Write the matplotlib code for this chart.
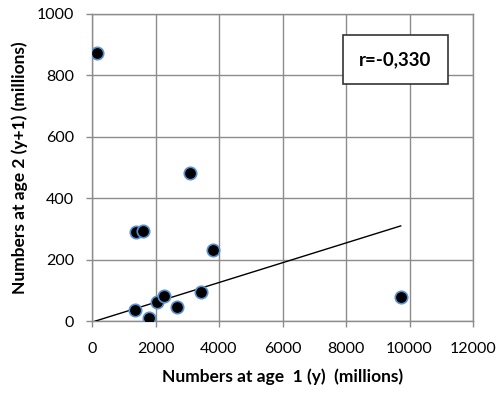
import matplotlib
matplotlib.use("Agg")
import matplotlib.pyplot as plt

age1 = [148, 1386, 1596, 3087, 3801, 1344, 1785, 2037, 2268, 2667, 3444, 9723]
age2 = [872, 291, 293, 481, 233, 36, 9, 61, 82, 47, 95, 77]
trend_x = [100, 9723]
trend_y = [0, 310]
xticks = [0, 2000, 4000, 6000, 8000, 10000, 12000]
yticks = [0, 200, 400, 600, 800, 1000]
r_label = "r=-0,330"

plt.rcParams['font.family'] = ['Lato', 'DejaVu Sans']

fig = plt.figure(figsize=(5, 3.94), dpi=100)
ax = fig.add_axes([0.184, 0.185, 0.762, 0.7795])
ax.set_xlim(0, 12000)
ax.set_ylim(0, 1000)
ax.set_xticks(xticks)
ax.set_yticks(yticks)
ax.grid(True, color='#8c8c8c', linewidth=1.0)
ax.set_axisbelow(True)
for s in ax.spines.values():
    s.set_color('#8c8c8c')
    s.set_linewidth(1.0)
ax.tick_params(colors='#8c8c8c', labelcolor='black', length=4, width=1, labelsize=11.5)
ax.tick_params(axis='x', pad=11)
ax.tick_params(axis='y', pad=9)

ax.plot(trend_x, trend_y, color='black', linewidth=1.0, zorder=3)
ax.scatter(age1, age2, s=80, facecolor='black', edgecolor='#5b8fd0', linewidth=1.2, zorder=4)

ax.set_xlabel('Numbers at age  1 (y)  (millions)', fontsize=12.5, fontweight='bold', labelpad=9)
ax.set_ylabel('Numbers at age 2 (y+1) (millions)', fontsize=12.5, fontweight='bold', labelpad=6)

fig.text(0.791, 0.849, r_label, fontsize=13.5, fontweight='bold', ha='center', va='center',
         bbox=dict(boxstyle='square,pad=0.85', facecolor='white', edgecolor='#333333', linewidth=1.2))

fig.savefig('out.png', dpi=100)
